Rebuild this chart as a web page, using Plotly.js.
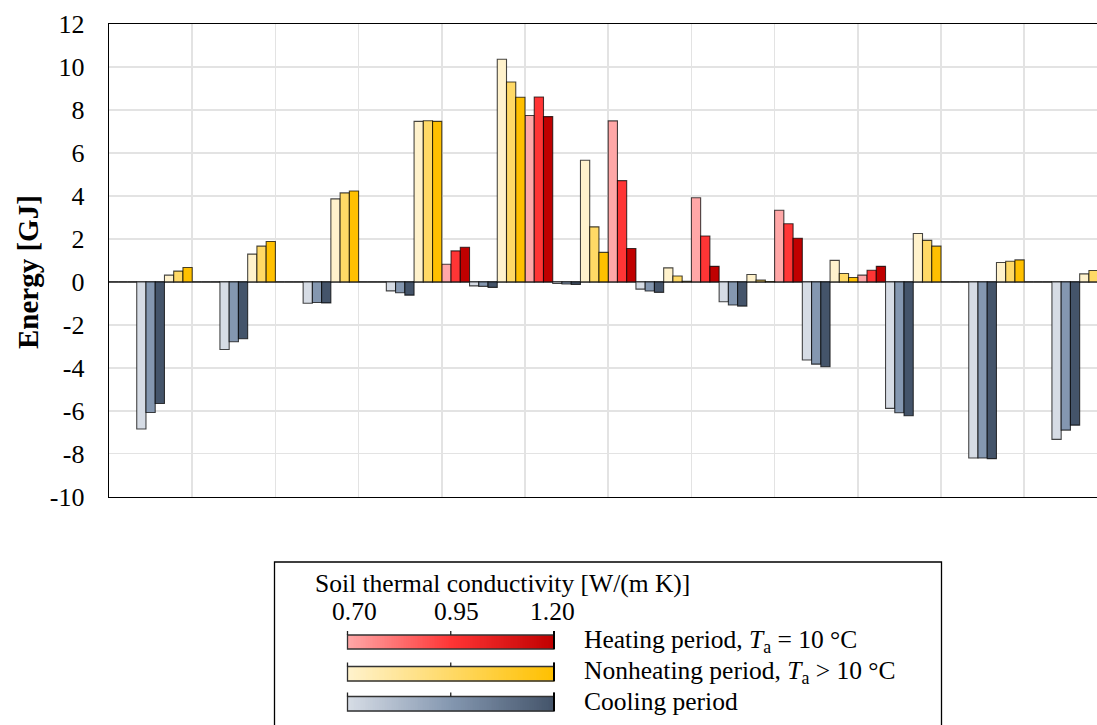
<!DOCTYPE html>
<html>
<head>
<meta charset="utf-8">
<script src="https://cdn.plot.ly/plotly-3.0.1.min.js"></script>
<style>html,body{margin:0;padding:0;background:#fff;overflow:hidden;}#chart{width:1097px;height:725px;}</style>
</head>
<body>
<div id="chart"></div>
<script>
// ---- data ----
const months = ['Jan','Feb','Mar','Apr','May','Jun','Jul','Aug','Sep','Oct','Nov','Dec'];
const conductivities = ['0.70','0.95','1.20'];

const heat070 = [0, 0, 0, 0, 0.82, 7.74, 7.49, 3.91, 3.33, 0.31, 0, 0];
const heat095 = [0, 0, 0, 0, 1.44, 8.60, 4.71, 2.13, 2.70, 0.54, 0, 0];
const heat120 = [0, 0, 0, 0, 1.61, 7.69, 1.55, 0.72, 2.03, 0.72, 0, 0];

const cool070 = [-6.85, -3.15, -1.00, -0.42, -0.19, -0.08, -0.34, -0.93, -3.64, -5.89, -8.20, -7.33];
const cool095 = [-6.08, -2.79, -0.96, -0.51, -0.21, -0.10, -0.43, -1.08, -3.83, -6.09, -8.20, -6.90];
const cool120 = [-5.66, -2.65, -0.98, -0.62, -0.26, -0.12, -0.49, -1.13, -3.95, -6.23, -8.23, -6.67];

const non070 = [0.31, 1.29, 3.86, 7.47, 10.36, 5.66, 0.65, 0.34, 1.00, 2.25, 0.90, 0.37];
const non095 = [0.50, 1.66, 4.14, 7.50, 9.30, 2.56, 0.27, 0.08, 0.39, 1.93, 0.96, 0.53];
const non120 = [0.67, 1.88, 4.23, 7.47, 8.59, 1.37, 0.02, 0.01, 0.20, 1.66, 1.02, 0.60];

const yTickVals = [-10, -8, -6, -4, -2, 0, 2, 4, 6, 8, 10, 12];
const yTickText = ['-10', '-8', '-6', '-4', '-2', '0', '2', '4', '6', '8', '10', '12'];

const heatColors = ['#FFA7A7', '#FF3535', '#C00000'];
const nonColors  = ['#FFF2CC', '#FFD966', '#FFC000'];
const coolColors = ['#D6DCE5', '#8497B0', '#44546A'];

const periodNames = ['Heating period', 'Cooling period', 'Nonheating period'];
const yTitle = 'Energy [GJ]';
// ---- end data ----

const FONT = 'Liberation Serif, Times New Roman, serif';
const xIdx = months.map((m, i) => i);

function barTrace(name, vals, color) {
  return {
    type: 'bar', x: xIdx, y: vals, name: name,
    customdata: months,
    hovertemplate: '%{customdata}: %{y} GJ<extra>' + name + '</extra>',
    marker: {color: color, line: {color: 'rgba(0,0,0,0.72)', width: 1.1}},
    showlegend: false
  };
}

const traces = [
  barTrace(periodNames[0] + ' ' + conductivities[0], heat070, heatColors[0]),
  barTrace(periodNames[0] + ' ' + conductivities[1], heat095, heatColors[1]),
  barTrace(periodNames[0] + ' ' + conductivities[2], heat120, heatColors[2]),
  barTrace(periodNames[1] + ' ' + conductivities[0], cool070, coolColors[0]),
  barTrace(periodNames[1] + ' ' + conductivities[1], cool095, coolColors[1]),
  barTrace(periodNames[1] + ' ' + conductivities[2], cool120, coolColors[2]),
  barTrace(periodNames[2] + ' ' + conductivities[0], non070, nonColors[0]),
  barTrace(periodNames[2] + ' ' + conductivities[1], non095, nonColors[1]),
  barTrace(periodNames[2] + ' ' + conductivities[2], non120, nonColors[2])
];

// ---- legend (gradient colour bars) drawn in a pixel-like helper axis pair x2/y2 ----
const LX0 = 347.5, LX1 = 554, N = 120;
const edges = [];
for (let i = 0; i <= N; i++) edges.push(LX0 + (LX1 - LX0) * i / N);
const zrow = [[...Array(N).keys()]];
const bandY = [[635, 649], [666.5, 681], [696.5, 711]];
const scales = [heatColors, nonColors, coolColors];
scales.forEach((c, k) => {
  traces.push({
    type: 'heatmap', xaxis: 'x2', yaxis: 'y2',
    x: edges, y: bandY[k], z: zrow,
    colorscale: [[0, c[0]], [0.5, c[1]], [1, c[2]]],
    showscale: false, hoverinfo: 'skip'
  });
});

const shapes = [];
// legend box
shapes.push({type: 'rect', xref: 'x2', yref: 'y2', x0: 274.5, x1: 941.5, y0: 562, y1: 740,
  line: {color: '#000', width: 1.3}, fillcolor: 'rgba(0,0,0,0)'});
bandY.forEach(b => {
  shapes.push({type: 'rect', xref: 'x2', yref: 'y2', x0: LX0, x1: LX1, y0: b[0], y1: b[1],
    line: {color: '#333', width: 1.3}, fillcolor: 'rgba(0,0,0,0)'});
  [LX0, (LX0 + LX1) / 2, LX1].forEach(tx => {
    shapes.push({type: 'line', xref: 'x2', yref: 'y2', x0: tx, x1: tx, y0: b[0] - 4, y1: b[0],
      line: {color: '#222', width: 1.3}});
  });
  shapes.push({type: 'line', xref: 'x2', yref: 'y2', x0: LX1, x1: LX1, y0: b[0] - 4, y1: b[1],
    line: {color: '#000', width: 2}});
});

const annFont = {family: FONT, size: 25.5, color: '#000'};
const annotations = [
  {xref: 'x2', yref: 'y2', x: 313, y: 583, text: 'Soil thermal conductivity [W/(m K)]',
   showarrow: false, xanchor: 'left', yanchor: 'middle', font: annFont},
  {xref: 'x2', yref: 'y2', x: 354, y: 611, text: conductivities[0], showarrow: false, xanchor: 'center', yanchor: 'middle', font: annFont},
  {xref: 'x2', yref: 'y2', x: 456.5, y: 611, text: conductivities[1], showarrow: false, xanchor: 'center', yanchor: 'middle', font: annFont},
  {xref: 'x2', yref: 'y2', x: 552, y: 611, text: conductivities[2], showarrow: false, xanchor: 'center', yanchor: 'middle', font: annFont},
  {xref: 'x2', yref: 'y2', x: 582, y: 641, text: periodNames[0] + ', <i>T</i><sub>a</sub> = 10 °C',
   showarrow: false, xanchor: 'left', yanchor: 'middle', font: annFont},
  {xref: 'x2', yref: 'y2', x: 582, y: 672, text: periodNames[2] + ', <i>T</i><sub>a</sub> &gt; 10 °C',
   showarrow: false, xanchor: 'left', yanchor: 'middle', font: annFont},
  {xref: 'x2', yref: 'y2', x: 582, y: 701, text: periodNames[1],
   showarrow: false, xanchor: 'left', yanchor: 'middle', font: annFont},
  // y-axis title (annotation in paper coords so it can sit slightly below the plot centre)
  {xref: 'paper', yref: 'paper', x: (28 - 109) / 988, y: (725 - 272) / 701,
   text: '<b>' + yTitle + '</b>', textangle: -90,
   showarrow: false, xanchor: 'center', yanchor: 'middle',
   font: {family: FONT, size: 29, color: '#000'}}
];

const layout = {
  width: 1097, height: 725,
  margin: {l: 109, r: 0, t: 24, b: 0, pad: 0},
  paper_bgcolor: '#fff', plot_bgcolor: '#fff',
  font: {family: FONT, size: 26, color: '#000'},
  barmode: 'group', bargap: 0, bargroupgap: 0,
  showlegend: false,
  xaxis: {
    domain: [0, 1], range: [-0.5, 11.375],
    tickvals: xIdx.map(i => i + 0.5), showticklabels: false, ticks: '',
    showgrid: true, gridcolor: '#e3e3e3', gridwidth: 1.5,
    showline: true, linecolor: '#000', linewidth: 1.3, mirror: true,
    zeroline: false, fixedrange: true
  },
  yaxis: {
    domain: [0.32568, 1], range: [-10, 12],
    tickvals: yTickVals, ticktext: yTickText,
    tickfont: {family: FONT, size: 26, color: '#000'},
    ticks: 'outside', ticklen: 18, tickcolor: 'rgba(0,0,0,0)',
    showgrid: true, gridcolor: '#e3e3e3', gridwidth: 1.5,
    showline: true, linecolor: '#000', linewidth: 1.3, mirror: false,
    zeroline: true, zerolinecolor: '#7f7f7f', zerolinewidth: 2,
    fixedrange: true
  },
  xaxis2: {domain: [0, 1], range: [109, 1097], visible: false, anchor: 'y2', fixedrange: true},
  yaxis2: {domain: [0, 0.32], range: [725, 725 - 0.32 * 701], visible: false, anchor: 'x2', fixedrange: true},
  shapes: shapes,
  annotations: annotations
};

Plotly.newPlot('chart', traces, layout, {displayModeBar: false, staticPlot: true});
</script>
</body>
</html>
